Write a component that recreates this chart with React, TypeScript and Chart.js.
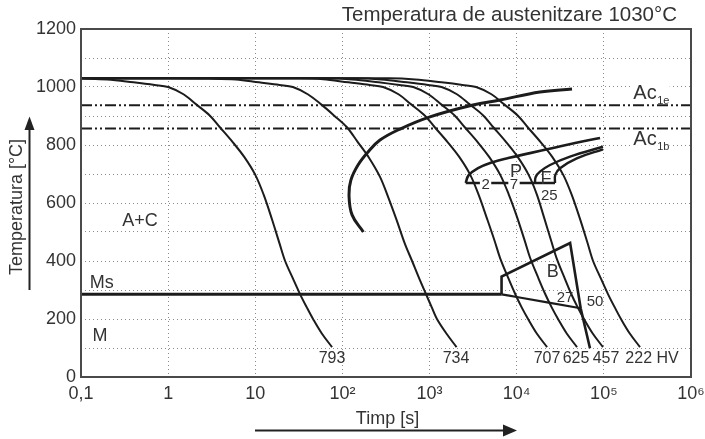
import React, { useEffect, useRef } from 'react';
import { Chart, registerables } from 'chart.js';

Chart.register(...registerables);

const FONT = '"Liberation Sans", Arial, Helvetica, sans-serif';
const LINE = '#1c1c1c';
const TEXT = '#333333';

// axis ticks
const xTickValues = [0.1, 1, 10, 100, 1000, 10000, 100000, 1000000];
const xTickLabels = ['0,1', '1', '10', '10²', '10³', '10⁴', '10⁵', '10⁶'];
const yLabelStep = 200;

// cooling curves (time s, temperature °C)
const t793 = [0.1, 0.2, 0.4, 0.7, 1, 1.5, 2.1, 3, 3.9, 5.5, 7.5, 10, 12.5, 15.5, 19, 22, 27, 32.6, 39, 46, 58, 76];
const T793 = [1030, 1026, 1016, 1007, 1000, 975, 940, 902, 862, 810, 758, 697, 628, 545, 460, 400, 340, 286, 240, 200, 150, 103];

const t734 = [0.1, 1, 3, 6, 11, 19, 27, 40, 57, 80, 112, 150, 200, 270, 340, 420, 520, 630, 760, 910, 1060, 1215, 1560, 2040];
const T734 = [1030, 1030, 1029, 1026, 1016, 1007, 1000, 975, 940, 902, 862, 810, 758, 690, 615, 540, 460, 400, 340, 286, 240, 200, 150, 103];

const t707 = [0.1, 10, 29, 60, 117, 205, 293, 440, 615, 880, 1140, 1610, 2200, 2930, 3660, 4540, 5570, 6450, 7900, 9550, 11400, 13500, 17000, 22300];
const T707 = [1030, 1030, 1030, 1027, 1016, 1007, 1000, 975, 940, 902, 862, 810, 758, 697, 628, 548, 470, 410, 345, 288, 240, 200, 150, 103];

const t625 = [0.1, 10, 65, 130, 260, 450, 650, 970, 1360, 1940, 2520, 3560, 4850, 6470, 8090, 10000, 12300, 14200, 17500, 21100, 25200, 29800, 37500, 49200];
const T625 = [1030, 1030, 1030, 1026, 1016, 1007, 1000, 975, 940, 902, 862, 810, 758, 697, 630, 555, 472, 412, 345, 288, 240, 200, 150, 103];

const t457 = [0.1, 10, 140, 280, 550, 960, 1375, 2060, 2890, 4130, 5360, 7560, 10300, 13700, 17000, 20500, 25000, 28800, 35000, 42000, 50100, 59100, 74500, 97700];
const T457 = [1030, 1030, 1030, 1026, 1016, 1007, 1000, 975, 940, 902, 862, 810, 758, 697, 630, 552, 467, 408, 345, 288, 240, 200, 150, 103];

const t222 = [0.1, 10, 342, 684, 1370, 2390, 3420, 5130, 7180, 10260, 13300, 18800, 25700, 34200, 42800, 53000, 65000, 75200, 92300, 111500, 133400, 157300, 198400, 260000];
const T222 = [1030, 1030, 1030, 1026, 1016, 1007, 1000, 975, 940, 902, 862, 810, 758, 697, 628, 547, 462, 400, 340, 286, 240, 200, 150, 103];

// transformation lines
const acTime = [0.1, 1000000];
const ac1eTemp = 937;
const ac1bTemp = 857;

const msTime = [0.1, 6700];
const msTemp = [285, 285];

const msSlopeTime = [6700, 10000, 54200];
const msSlopeTemp = [285, 276, 237];

const bainiteTime = [6700, 6700, 41000, 54200, 69300];
const bainiteTemp = [285, 346, 462, 237, 99];

const ferriteStartTime = [174, 129, 119, 125, 151, 197, 270, 458, 1010, 3150, 6430, 18500, 43100];
const ferriteStartTemp = [500, 559, 628, 679, 731, 776, 817, 855, 897, 938, 955, 983, 993];

const pearliteTopTime = [2600, 2800, 3600, 5200, 8000, 14200, 26100, 46700, 90400];
const pearliteTopTemp = [669, 695, 720, 740, 755, 772, 790, 807, 824];

const pearliteEndTime = [2600, 27500];
const pearliteEndTemp = [669, 669];

const fOuterTime = [16200, 16500, 18500, 24100, 40900, 97700];
const fOuterTemp = [669, 690, 708, 731, 760, 794];

const fInnerTime = [27500, 27700, 31400, 48900, 97700];
const fInnerTemp = [669, 697, 720, 754, 785];

// text annotations (data coordinates)
const regionLabels = [
  { text: 'A+C', t: 0.475, T: 541, size: 18 },
  { text: 'Ms', t: 0.173, T: 329, size: 18 },
  { text: 'M', t: 0.165, T: 145, size: 18 },
  { text: 'P', t: 9820, T: 710, size: 18 },
  { text: 'F', t: 21700, T: 686, size: 18 },
  { text: 'B', t: 25900, T: 366, size: 18 },
];
const percentLabels = [
  { text: '2', t: 4390, T: 667 },
  { text: '7', t: 9310, T: 667 },
  { text: '25', t: 23700, T: 628 },
  { text: '27', t: 35800, T: 276 },
  { text: '50', t: 79300, T: 263 },
];
const hardnessLabels = [
  { text: '793', t: 76 },
  { text: '734', t: 2010 },
  { text: '707', t: 22300 },
  { text: '625', t: 47900 },
  { text: '457', t: 106000 },
  { text: '222 HV', t: 357000 },
];
const hardnessLabelTemp = 66;
const acLabels = [
  { main: 'Ac', sub: '1e', t: 218000, T: 981 },
  { main: 'Ac', sub: '1b', t: 218000, T: 821 },
];

const subtitle = 'Temperatura de austenitzare 1030°C';
const yTitle = 'Temperatura [°C]';
const xTitle = 'Timp [s]';

function series(ts: number[], Ts: number[], extra: any = {}) {
  return {
    data: ts.map((t, i) => ({ x: t, y: Ts[i] })),
    showLine: true,
    pointRadius: 0,
    pointHoverRadius: 0,
    borderColor: LINE,
    backgroundColor: LINE,
    borderWidth: 2,
    fill: false,
    ...extra,
  };
}

const decorPlugin = {
  id: 'decor',
  afterDatasetsDraw(chart: any) {
    const { ctx, chartArea: a } = chart;
    const xs = chart.scales.x;
    const ys = chart.scales.y;
    const px = (t: number) => xs.getPixelForValue(t);
    const py = (T: number) => ys.getPixelForValue(T);
    ctx.save();

    const drawText = (text: string, x: number, y: number, size: number, bg = false) => {
      ctx.font = `${size}px ${FONT}`;
      ctx.textAlign = 'center';
      ctx.textBaseline = 'middle';
      if (bg) {
        const w = ctx.measureText(text).width;
        ctx.fillStyle = '#ffffff';
        ctx.fillRect(x - w / 2 - 1.5, y - size * 0.42, w + 3, size * 0.84);
      }
      ctx.fillStyle = TEXT;
      ctx.fillText(text, x, y + 1);
    };

    regionLabels.forEach((l) => drawText(l.text, px(l.t), py(l.T), l.size));
    percentLabels.forEach((l) => drawText(l.text, px(l.t), py(l.T), 15, l.text === '2' || l.text === '7'));
    hardnessLabels.forEach((l) => drawText(l.text, px(l.t), py(hardnessLabelTemp), 16));

    acLabels.forEach((l) => {
      const x = px(l.t);
      const y = py(l.T);
      ctx.font = `20px ${FONT}`;
      ctx.textAlign = 'left';
      ctx.textBaseline = 'middle';
      const w = ctx.measureText(l.main).width;
      ctx.fillStyle = '#ffffff';
      ctx.fillRect(x - 1, y - 8, w + 14, 15);
      ctx.fillStyle = TEXT;
      ctx.fillText(l.main, x, y + 1);
      ctx.font = `11px ${FONT}`;
      ctx.fillText(l.sub, x + w + 0.5, y + 8);
    });

    // frame
    ctx.strokeStyle = '#4a4a4a';
    ctx.lineWidth = 2;
    ctx.strokeRect(a.left, a.top, a.right - a.left, a.bottom - a.top);
    ctx.restore();
  },
  afterDraw(chart: any) {
    const { ctx, chartArea: a } = chart;
    ctx.save();
    ctx.fillStyle = TEXT;
    ctx.strokeStyle = '#222';

    // subtitle
    ctx.font = `20.5px ${FONT}`;
    ctx.textAlign = 'right';
    ctx.textBaseline = 'middle';
    ctx.fillText(subtitle, a.right - 14, a.top - 14);

    // y title + arrow
    ctx.save();
    ctx.translate(17.5, 207);
    ctx.rotate(-Math.PI / 2);
    ctx.font = `18px ${FONT}`;
    ctx.textAlign = 'center';
    ctx.textBaseline = 'middle';
    ctx.fillText(yTitle, 0, 0);
    ctx.restore();

    ctx.lineWidth = 2;
    ctx.beginPath();
    ctx.moveTo(29.5, 290);
    ctx.lineTo(29.5, 126);
    ctx.stroke();
    ctx.fillStyle = '#222';
    ctx.beginPath();
    ctx.moveTo(29.5, 116.5);
    ctx.lineTo(34.5, 130);
    ctx.lineTo(24.5, 130);
    ctx.closePath();
    ctx.fill();

    // x title + arrow
    ctx.fillStyle = TEXT;
    ctx.font = `18px ${FONT}`;
    ctx.textAlign = 'center';
    ctx.textBaseline = 'middle';
    ctx.fillText(xTitle, 387.5, 419);

    ctx.beginPath();
    ctx.moveTo(255, 430.5);
    ctx.lineTo(506, 430.5);
    ctx.stroke();
    ctx.fillStyle = '#222';
    ctx.beginPath();
    ctx.moveTo(517, 430.5);
    ctx.lineTo(503, 424.5);
    ctx.lineTo(503, 436.5);
    ctx.closePath();
    ctx.fill();
    ctx.restore();
  },
};

export default function App() {
  const ref = useRef<HTMLCanvasElement>(null);

  useEffect(() => {
    if (!ref.current) return;
    const smooth = { tension: 0.35 };
    const acDash = { borderDash: [11, 3, 2, 3, 2, 3], borderWidth: 2 };

    const chart = new Chart(ref.current, {
      type: 'scatter',
      data: {
        datasets: [
          series(t793, T793, smooth),
          series(t734, T734, smooth),
          series(t707, T707, smooth),
          series(t625, T625, smooth),
          series(t457, T457, smooth),
          series(t222, T222, smooth),
          series(acTime, [ac1eTemp, ac1eTemp], acDash),
          series(acTime, [ac1bTemp, ac1bTemp], acDash),
          series(msTime, msTemp, { borderWidth: 3 }),
          series(msSlopeTime, msSlopeTemp, { borderWidth: 2.2, tension: 0.2 }),
          series(bainiteTime, bainiteTemp, { borderWidth: 2.6 }),
          series(ferriteStartTime, ferriteStartTemp, { borderWidth: 3, tension: 0.4 }),
          series(pearliteTopTime, pearliteTopTemp, { borderWidth: 2.6, tension: 0.4 }),
          series(pearliteEndTime, pearliteEndTemp, { borderWidth: 2.6 }),
          series(fOuterTime, fOuterTemp, { borderWidth: 2.4, tension: 0.4 }),
          series(fInnerTime, fInnerTemp, { borderWidth: 2.4, tension: 0.4 }),
        ] as any,
      },
      options: {
        responsive: false,
        animation: false,
        devicePixelRatio: 1,
        layout: { padding: { top: 29, right: 14, left: 0, bottom: 0 } },
        plugins: {
          legend: { display: false },
          title: { display: false },
          tooltip: { enabled: false },
        },
        scales: {
          x: {
            type: 'logarithmic',
            min: 0.1,
            max: 1000000,
            afterBuildTicks: (s: any) => {
              s.ticks = xTickValues.map((v) => ({ value: v }));
            },
            afterFit: (s: any) => {
              s.height = 62;
              s.paddingLeft = 0;
              s.paddingRight = 0;
            },
            ticks: {
              autoSkip: false,
              maxRotation: 0,
              minRotation: 0,
              padding: 6,
              color: TEXT,
              font: { family: FONT, size: 18 },
              callback: (v: any) => {
                const i = xTickValues.findIndex((x) => Math.abs(Math.log10(x) - Math.log10(Number(v))) < 1e-6);
                return i >= 0 ? xTickLabels[i] : '';
              },
            },
            grid: { color: '#8c8c8c', lineWidth: 1, drawTicks: false },
            border: { display: false, dash: [1, 3] },
          },
          y: {
            type: 'linear',
            min: 0,
            max: 1200,
            afterFit: (s: any) => {
              s.width = 81;
              s.paddingTop = 0;
              s.paddingBottom = 0;
            },
            ticks: {
              stepSize: 100,
              autoSkip: false,
              padding: 5,
              color: TEXT,
              font: { family: FONT, size: 18 },
              callback: (v: any) => (Number(v) % yLabelStep === 0 ? String(v) : ''),
            },
            grid: { color: '#8c8c8c', lineWidth: 1, drawTicks: false },
            border: { display: false, dash: [1, 3] },
          },
        },
      } as any,
      plugins: [decorPlugin],
    });
    return () => chart.destroy();
  }, []);

  return (
    <div style={{ position: 'fixed', left: 0, top: 0, width: 705, height: 439, background: '#ffffff' }}>
      <canvas ref={ref} width={705} height={439} style={{ display: 'block', width: 705, height: 439 }} />
    </div>
  );
}
